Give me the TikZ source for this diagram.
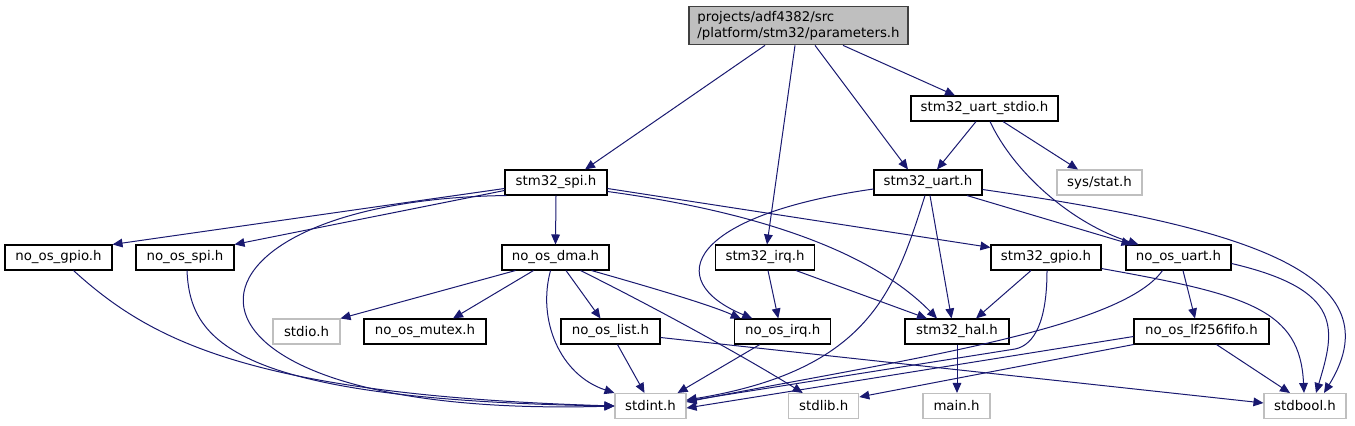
\documentclass[tikz,border=0pt]{standalone}
\usepackage{fontspec}
\setmainfont{DejaVu Sans}
\usepackage{tikz}
\usepackage{xcolor}
\usetikzlibrary{arrows.meta,calc}

\definecolor{edgeblue}{HTML}{191970}
\definecolor{extgray}{HTML}{BFBFBF}
\definecolor{rootfill}{HTML}{BFBFBF}
\definecolor{rootline}{HTML}{404040}

\begin{document}
\begin{tikzpicture}[
          x=0.75pt, y=-0.75pt,
          hfile/.style={draw=black, line width=0.8pt, fill=white, inner sep=0pt,
                        minimum height=18.75pt, font=\fontsize{10}{12}\selectfont},
          extfile/.style={hfile, draw=extgray},
          rootfile/.style={hfile, draw=rootline, fill=rootfill, minimum height=29pt, align=left},
          wd/.style={minimum width=#1*0.75pt},
          dep/.style={draw=edgeblue, line width=0.75pt, -{Triangle[length=7.5pt,width=6.5pt]}}
      ]
        \useasboundingbox (0,0) rectangle (1355,425);
        % headers
        \node[rootfile, wd=219] (root) at (798.5,25.5) {projects/adf4382/src\\/platform/stm32/parameters.h};
        \node[hfile, wd=147] (uartstdio) at (984.5,108.5) {stm32\_uart\_stdio.h};
        \node[hfile, wd=102] (spi) at (556,182.5) {stm32\_spi.h};
        \node[hfile, wd=108] (uart) at (928,182.5) {stm32\_uart.h};
        \node[extfile, wd=85] (sysstat) at (1099.5,182.5) {sys/stat.h};
        \node[hfile, wd=107] (gpio) at (58.5,257.5) {no\_os\_gpio.h};
        \node[hfile, wd=98] (nospi) at (185,257.5) {no\_os\_spi.h};
        \node[hfile, wd=107] (dma) at (555.5,257.5) {no\_os\_dma.h};
        \node[hfile, wd=99] (irq) at (765,257.5) {stm32\_irq.h};
        \node[hfile, wd=110] (stmgpio) at (1046,257.5) {stm32\_gpio.h};
        \node[hfile, wd=105] (nouart) at (1178.5,257.5) {no\_os\_uart.h};
        \node[extfile, wd=67] (stdio) at (306.5,331.5) {stdio.h};
        \node[hfile, wd=122] (mutex) at (425,331.5) {no\_os\_mutex.h};
        \node[hfile, wd=99] (list) at (610.5,331.5) {no\_os\_list.h};
        \node[hfile, wd=96] (noirq) at (782.75,331.5) {no\_os\_irq.h};
        \node[hfile, wd=104] (hal) at (957,331.5) {stm32\_hal.h};
        \node[hfile, wd=135] (fifo) at (1201.5,331.5) {no\_os\_lf256fifo.h};
        \node[extfile, wd=71] (stdint) at (650.5,406) {stdint.h};
        \node[extfile, wd=70] (stdlib) at (823.75,406) {stdlib.h};
        \node[extfile, wd=67] (mainh) at (956.5,406) {main.h};
        \node[extfile, wd=82] (stdbool) at (1305,406) {stdbool.h};

        % parameters.h
        \draw[dep] ($(root.south)+(-33.5,0)$) -- ($(spi.north)+(29,0)$);
        \draw[dep] ($(root.south)+(-3.5,0)$) -- ($(irq.north)+(2,0)$);
        \draw[dep] ($(root.south)+(16.5,0)$) -- ($(uart.north)+(-20,0)$);
        \draw[dep] ($(root.south)+(44.5,0)$) -- ($(uartstdio.north)+(-29.5,0)$);
        % stm32_uart_stdio.h
        \draw[dep] ($(uartstdio.south)+(-8.5,0)$) -- ($(uart.north)+(9,0)$);
        \draw[dep] ($(uartstdio.south)+(18.5,0)$) -- ($(sysstat.north)+(-21.5,0)$);
        \draw[dep] ($(uartstdio.south)+(5.5,0)$) .. controls (1015,175) and (1075,225) .. ($(nouart.north)+(-40,0)$);
        % stm32_uart.h
        \draw[dep] ($(uart.west)+(0,6.5)$) .. controls (690,215) and (660,280) .. ($(noirq.north)+(-30.5,0)$);
        \draw[dep] ($(uart.south)+(-3,0)$) .. controls (895,290) and (870,370) .. ($(stdint.east)+(0,-6)$);
        \draw[dep] ($(uart.south)+(2,0)$) -- ($(hal.north)+(-5.5,0)$);
        \draw[dep] ($(uart.south)+(39,0)$) -- ($(nouart.north)+(-47,0)$);
        \draw[dep] ($(uart.east)+(0,7)$) .. controls (1230,225) and (1400,270) .. ($(stdbool.north)+(19,0)$);
        % stm32_spi.h
        \draw[dep] ($(spi.west)+(0,6)$) -- (gpio.north east);
        \draw[dep] ($(spi.west)+(0,8)$) -- (nospi.north east);
        \draw[dep] ($(spi.south west)+(2,0)$) .. controls (150,200) and (130,420) .. (stdint.west);
        \draw[dep] (spi.south) -- (dma.north);
        \draw[dep] ($(spi.east)+(0,6)$) -- ($(stmgpio.north west)+(0,3)$);
        \draw[dep] ($(spi.east)+(0,9)$) .. controls (780,215) and (880,260) .. ($(hal.north)+(-20,0)$);
        % no_os_gpio.h, no_os_spi.h
        \draw[dep] ($(gpio.south)+(15,0)$) .. controls (150,340) and (250,395) .. (stdint.west);
        \draw[dep] ($(nospi.south)+(2,0)$) .. controls (190,340) and (230,400) .. (stdint.west);
        % no_os_dma.h
        \draw[dep] ($(dma.south)+(-40,0)$) -- (stdio.north east);
        \draw[dep] ($(dma.south)+(-22,0)$) -- ($(mutex.north)+(28,0)$);
        \draw[dep] ($(dma.south)+(10.5,0)$) -- ($(list.north)+(-10,0)$);
        \draw[dep] ($(dma.south)+(-5,0)$) .. controls (537,320) and (560,375) .. (stdint.north west);
        \draw[dep] ($(dma.south)+(36,0)$) .. controls (660,290) and (710,305) .. ($(noirq.north)+(-42,0)$);
        \draw[dep] ($(dma.south)+(25,0)$) .. controls (660,310) and (750,360) .. ($(stdlib.north)+(-21,0)$);
        % no_os_list.h
        \draw[dep] ($(list.south)+(7,0)$) -- ($(stdint.north)+(-6,0)$);
        \draw[dep] ($(list.east)+(0,6)$) -- ($(stdbool.west)+(0,-3)$);
        % stm32_irq.h, no_os_irq.h
        \draw[dep] ($(irq.south)+(3,0)$) -- ($(noirq.north)+(-4.5,0)$);
        \draw[dep] ($(irq.south)+(31,0)$) -- ($(hal.north)+(-30,0)$);
        \draw[dep] ($(noirq.south)+(-23,0)$) -- ($(stdint.north east)+(-9,0)$);
        % stm32_gpio.h
        \draw[dep] ($(stmgpio.south)+(-15,0)$) -- ($(hal.north)+(19,0)$);
        \draw[dep] ($(stmgpio.south)+(1,0)$) .. controls (1047,320) and (1035,345) .. (1015,349) -- ($(stdint.east)+(0,-5)$);
        \draw[dep] ($(stmgpio.south east)+(0,-2)$) .. controls (1250,295) and (1300,310) .. ($(stdbool.north)+(-1,0)$);
        % no_os_uart.h
        \draw[dep] ($(nouart.south)+(-16,0)$) .. controls (1120,330) and (900,360) .. ($(stdint.east)+(0,-4)$);
        \draw[dep] ($(nouart.south)+(4.5,0)$) -- ($(fifo.north)+(-6.5,0)$);
        \draw[dep] ($(nouart.east)+(0,6)$) .. controls (1345,290) and (1335,330) .. ($(stdbool.north)+(11,0)$);
        % no_os_lf256fifo.h
        \draw[dep] ($(fifo.west)+(0,5)$) -- ($(stdint.east)+(0,2)$);
        \draw[dep] (fifo.south west) -- ($(stdlib.east)+(0,-9)$);
        \draw[dep] ($(fifo.south)+(15,0)$) -- ($(stdbool.north)+(-15,0)$);
        % stm32_hal.h
        \draw[dep] (hal.south) -- (hal.south |- mainh.north);
      \end{tikzpicture}
\end{document}
